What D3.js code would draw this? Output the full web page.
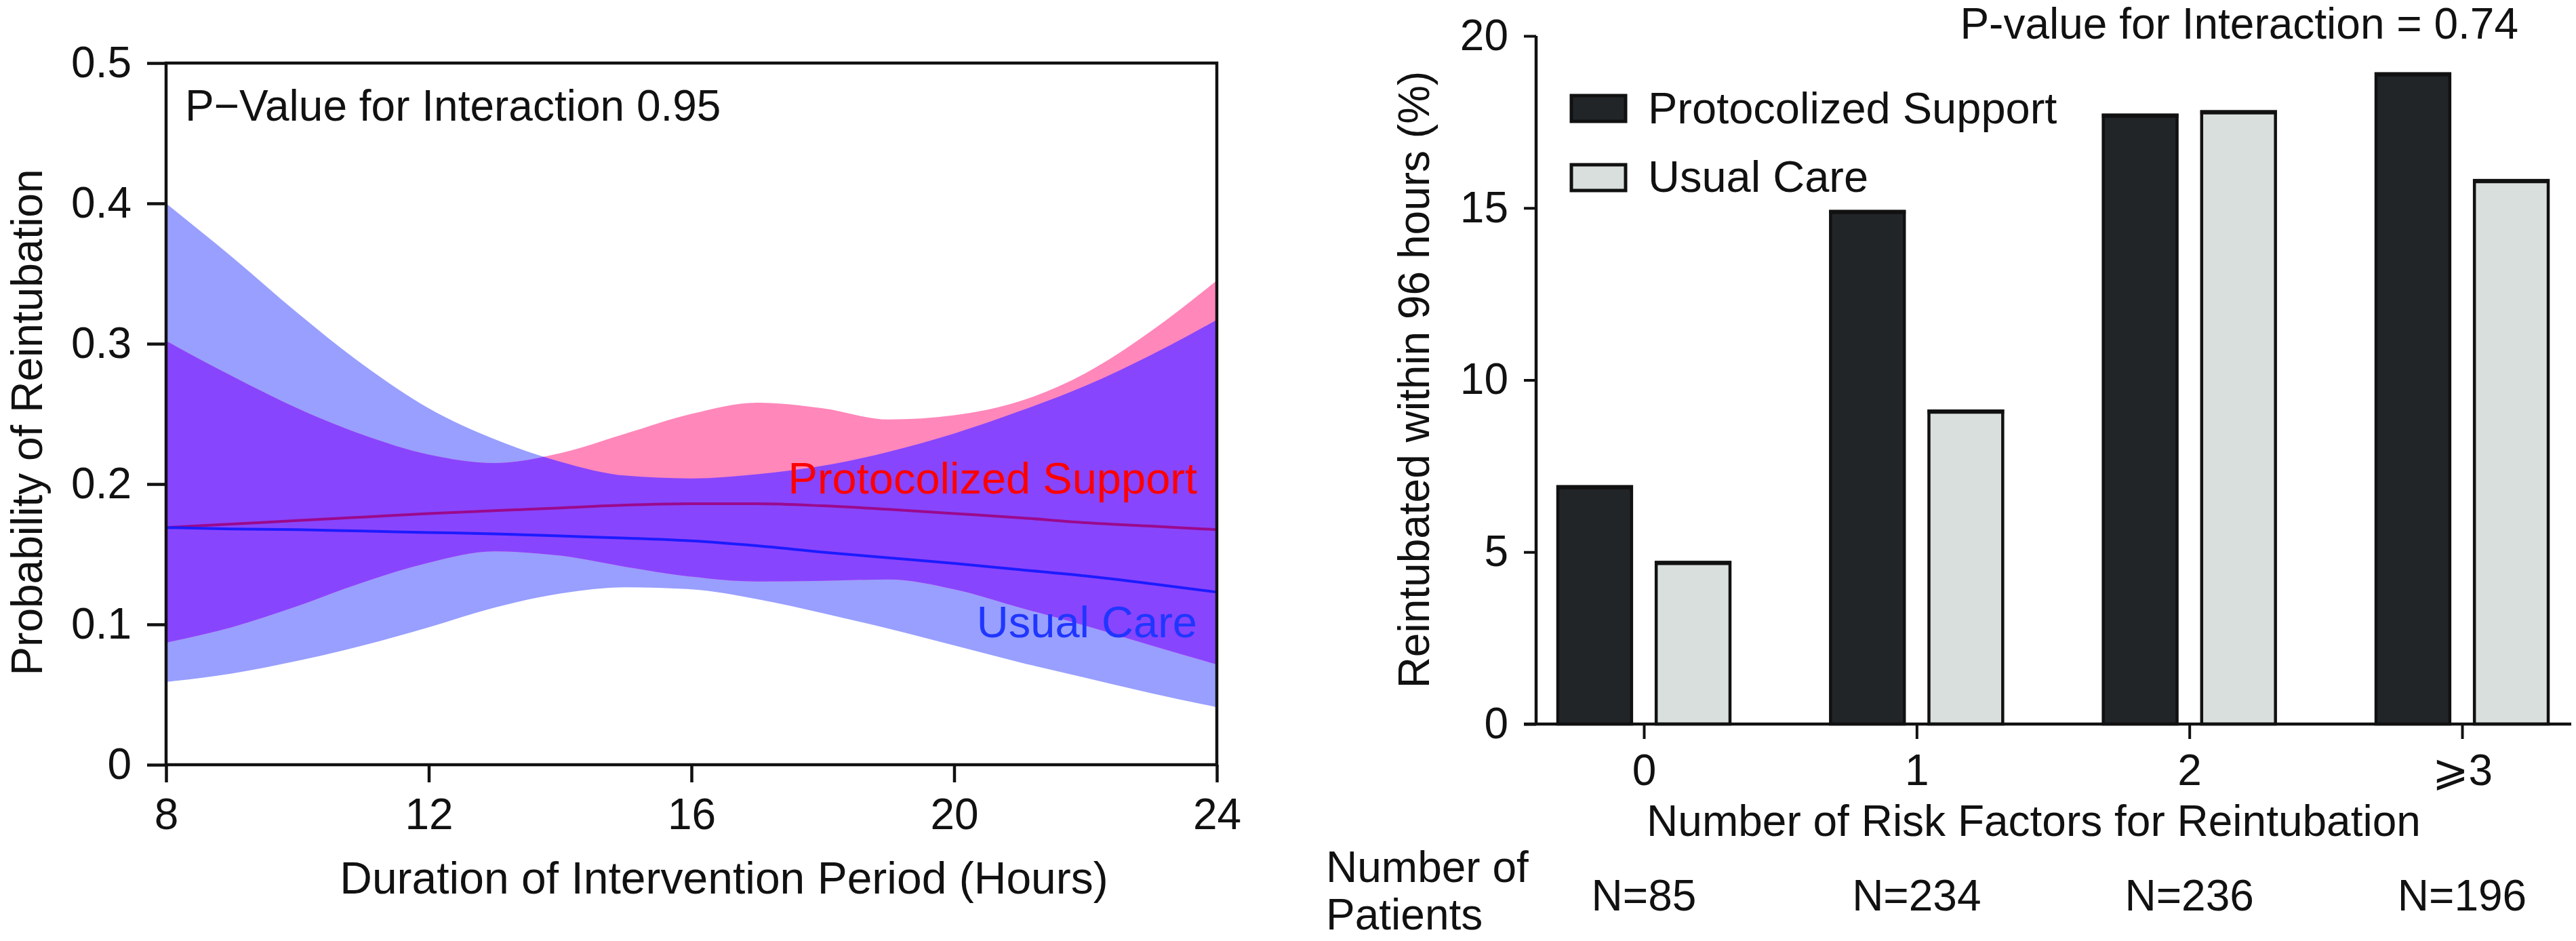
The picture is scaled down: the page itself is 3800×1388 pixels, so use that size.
<!DOCTYPE html>
<html>
<head>
<meta charset="utf-8">
<script src="https://cdn.jsdelivr.net/npm/d3@7"></script>
<style>
  html, body { margin: 0; padding: 0; background: #ffffff; }
  svg { display: block; }
  text { font-family: "Liberation Sans", Arial, Helvetica, sans-serif; fill: #111; }
</style>
</head>
<body>
<svg id="chart" width="3800" height="1388"></svg>
<script>
// ---------------- Left panel data ----------------
const hours        = [8, 9, 10, 11, 12, 13, 14, 15, 16, 17, 18, 19, 20, 21, 22, 23, 24];
const protoFit     = [0.169, 0.1715, 0.174, 0.1765, 0.179, 0.181, 0.183, 0.185, 0.186, 0.186, 0.1845, 0.182, 0.179, 0.176, 0.1725, 0.170, 0.1675];
const protoUpper   = [0.302, 0.277, 0.254, 0.235, 0.221, 0.215, 0.222, 0.236, 0.250, 0.258, 0.254, 0.246, 0.249, 0.259, 0.279, 0.309, 0.345];
const protoLower   = [0.087, 0.098, 0.113, 0.130, 0.144, 0.152, 0.149, 0.141, 0.134, 0.1305, 0.131, 0.132, 0.125, 0.112, 0.099, 0.085, 0.0715];
const usualFit     = [0.169, 0.168, 0.1675, 0.1665, 0.1655, 0.1645, 0.163, 0.1615, 0.1595, 0.156, 0.1515, 0.1475, 0.1435, 0.139, 0.1345, 0.129, 0.123];
const usualUpper   = [0.400, 0.362, 0.322, 0.285, 0.254, 0.232, 0.216, 0.206, 0.204, 0.207, 0.213, 0.223, 0.236, 0.252, 0.270, 0.292, 0.317];
const usualLower   = [0.059, 0.065, 0.074, 0.085, 0.098, 0.112, 0.122, 0.1265, 0.125, 0.118, 0.108, 0.097, 0.085, 0.073, 0.062, 0.051, 0.041];
const leftXTicks   = [8, 12, 16, 20, 24];
const leftYTicks   = [0, 0.1, 0.2, 0.3, 0.4, 0.5];

// ---------------- Right panel data ----------------
const riskCategories = ["0", "1", "2", "\u2A7E3"];
const groups         = ["Protocolized Support", "Usual Care"];
const protoPct       = [6.9, 14.9, 17.7, 18.9];
const usualPct       = [4.7, 9.1, 17.8, 15.8];
const patientsN      = ["N=85", "N=234", "N=236", "N=196"];
const rightYTicks    = [0, 5, 10, 15, 20];

const svg = d3.select("#chart");
svg.append("rect").attr("width", 3800).attr("height", 1388).attr("fill", "#ffffff");

// =============== LEFT PANEL ===============
const xL = d3.scaleLinear().domain([8, 24]).range([245, 1795]);
const yL = d3.scaleLinear().domain([0, 0.5]).range([1128, 93]);
const L = svg.append("g");

const rows = hours.map((h, i) => ({
  h, pf: protoFit[i], pu: protoUpper[i], pl: protoLower[i],
  uf: usualFit[i], uu: usualUpper[i], ul: usualLower[i]
}));
const curve = d3.curveMonotoneX;
const ucArea = d3.area().curve(curve).x(d => xL(d.h)).y0(d => yL(d.ul)).y1(d => yL(d.uu));
const psArea = d3.area().curve(curve).x(d => xL(d.h)).y0(d => yL(d.pl)).y1(d => yL(d.pu));

const defs = svg.append("defs");
defs.append("clipPath").attr("id", "ucClip").append("path").attr("d", ucArea(rows));

L.append("path").attr("d", ucArea(rows)).attr("fill", "#989FFF");
L.append("path").attr("d", psArea(rows)).attr("fill", "#FF87BA");
L.append("path").attr("d", psArea(rows)).attr("fill", "#8845FE").attr("clip-path", "url(#ucClip)");

L.append("path").datum(rows)
  .attr("d", d3.line().curve(curve).x(d => xL(d.h)).y(d => yL(d.pf)))
  .attr("fill", "none").attr("stroke", "#9A0A8C").attr("stroke-width", 4);
L.append("path").datum(rows)
  .attr("d", d3.line().curve(curve).x(d => xL(d.h)).y(d => yL(d.uf)))
  .attr("fill", "none").attr("stroke", "#1C1CFF").attr("stroke-width", 4);

// frame
L.append("rect").attr("x", xL(8)).attr("y", yL(0.5))
  .attr("width", xL(24) - xL(8)).attr("height", yL(0) - yL(0.5))
  .attr("fill", "none").attr("stroke", "#111").attr("stroke-width", 4.5);

const yAxisL = L.append("g").attr("transform", `translate(${xL(8)},0)`)
  .call(d3.axisLeft(yL).tickValues(leftYTicks).tickSize(28).tickPadding(23)
    .tickFormat(d => d === 0 ? "0" : d3.format(".1f")(d)));
const xAxisL = L.append("g").attr("transform", `translate(0,${yL(0)})`)
  .call(d3.axisBottom(xL).tickValues(leftXTicks).tickSize(26).tickPadding(24).tickFormat(d3.format("d")));
[yAxisL, xAxisL].forEach(g => {
  g.select(".domain").remove();
  g.selectAll(".tick line").attr("stroke", "#111").attr("stroke-width", 4.5);
  g.selectAll(".tick text").attr("font-size", 64).attr("fill", "#111")
    .style("font-family", '"Liberation Sans", Arial, sans-serif');
});

L.append("text").attr("x", 273).attr("y", 178).attr("font-size", 64)
  .text("P\u2212Value for Interaction 0.95");
L.append("text").attr("x", 1766).attr("y", 728).attr("font-size", 65)
  .attr("text-anchor", "end").style("fill", "#FF0000").text("Protocolized Support");
L.append("text").attr("x", 1766).attr("y", 940).attr("font-size", 65)
  .attr("text-anchor", "end").style("fill", "#2036FF").text("Usual Care");
L.append("text").attr("transform", "translate(62,623) rotate(-90)")
  .attr("text-anchor", "middle").attr("font-size", 64).text("Probability of Reintubation");
L.append("text").attr("x", 1068).attr("y", 1318).attr("text-anchor", "middle")
  .attr("font-size", 66).text("Duration of Intervention Period (Hours)");

// =============== RIGHT PANEL ===============
const xR = d3.scalePoint().domain(riskCategories).range([2425, 3632]);
const xInner = d3.scaleBand().domain(groups).range([-127, 127]).paddingInner(0.25);
const yR = d3.scaleLinear().domain([0, 20]).range([1068, 53]);
const R = svg.append("g");

const fills = { "Protocolized Support": "#222528", "Usual Care": "#D9DFDD" };
const barData = [];
riskCategories.forEach((c, i) => {
  barData.push({ c, g: groups[0], v: protoPct[i] });
  barData.push({ c, g: groups[1], v: usualPct[i] });
});
R.selectAll("rect.bar").data(barData).join("rect").attr("class", "bar")
  .attr("x", d => xR(d.c) + xInner(d.g))
  .attr("width", xInner.bandwidth())
  .attr("y", d => yR(d.v))
  .attr("height", d => yR(0) - yR(d.v))
  .attr("fill", d => fills[d.g])
  .attr("stroke", "#111").attr("stroke-width", 4.5);
// slightly heavier top edge, as in the reference
R.selectAll("line.top").data(barData).join("line").attr("class", "top")
  .attr("x1", d => xR(d.c) + xInner(d.g) - 2)
  .attr("x2", d => xR(d.c) + xInner(d.g) + xInner.bandwidth() + 2)
  .attr("y1", d => yR(d.v) + 1).attr("y2", d => yR(d.v) + 1)
  .attr("stroke", "#111").attr("stroke-width", 6);

const yAxisR = R.append("g").attr("transform", "translate(2266,0)")
  .call(d3.axisLeft(yR).tickValues(rightYTicks).tickSize(18).tickPadding(23).tickFormat(d3.format("d")));
yAxisR.select(".domain").attr("stroke", "#111").attr("stroke-width", 4.5).attr("d", `M0,${yR(20)}V${yR(0)}`);

const xAxisR = R.append("g").attr("transform", `translate(0,${yR(0)})`)
  .call(d3.axisBottom(xR).tickSize(22).tickPadding(23));
xAxisR.select(".domain").attr("stroke", "#111").attr("stroke-width", 4.5).attr("d", "M2248,0H3793");
[yAxisR, xAxisR].forEach(g => {
  g.selectAll(".tick line").attr("stroke", "#111").attr("stroke-width", 4);
  g.selectAll(".tick text").attr("font-size", 64).attr("fill", "#111")
    .style("font-family", '"Liberation Sans", Arial, "DejaVu Sans", sans-serif');
});

// legend
const legend = R.append("g");
groups.forEach((g, i) => {
  legend.append("rect").attr("x", 2318).attr("y", 141 + i * 102).attr("width", 80).attr("height", 38)
    .attr("fill", fills[g]).attr("stroke", "#111").attr("stroke-width", 5);
  legend.append("text").attr("x", 2431).attr("y", 182 + i * 101).attr("font-size", 65).text(g);
});

R.append("text").attr("x", 3715).attr("y", 57).attr("text-anchor", "end").attr("font-size", 64)
  .text("P-value for Interaction = 0.74");
R.append("text").attr("transform", "translate(2108,560) rotate(-90)")
  .attr("text-anchor", "middle").attr("font-size", 64).text("Reintubated within 96 hours (%)");
R.append("text").attr("x", 3000).attr("y", 1233).attr("text-anchor", "middle")
  .attr("font-size", 64).text("Number of Risk Factors for Reintubation");
R.append("text").attr("x", 1956).attr("y", 1301).attr("font-size", 64).text("Number of");
R.append("text").attr("x", 1956).attr("y", 1371).attr("font-size", 64).text("Patients");
R.selectAll("text.n").data(patientsN).join("text").attr("class", "n")
  .attr("x", (d, i) => xR(riskCategories[i])).attr("y", 1343)
  .attr("text-anchor", "middle").attr("font-size", 64).text(d => d);
</script>
</body>
</html>
